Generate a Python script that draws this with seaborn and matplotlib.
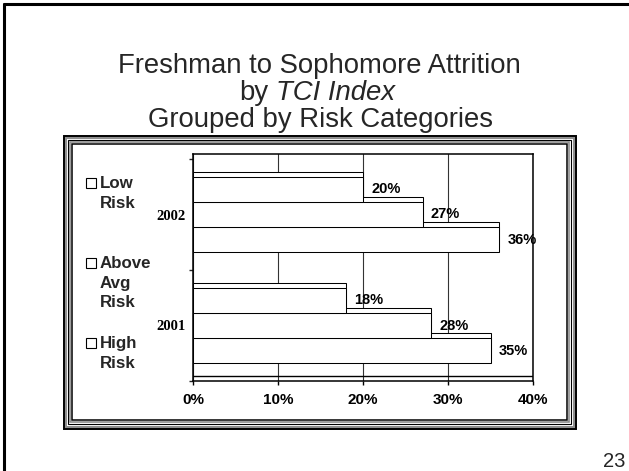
import numpy as np
import pandas as pd
import seaborn as sns
import matplotlib.pyplot as plt
import matplotlib.transforms as mtransforms
from matplotlib.patches import Rectangle
from matplotlib.lines import Line2D

# data
years = ["2002", "2001"]
risks = ["Low Risk", "Above Avg Risk", "High Risk"]
legend_labels = ["Low\nRisk", "Above\nAvg\nRisk", "High\nRisk"]
rate_2002 = [0.20, 0.27, 0.36]
rate_2001 = [0.18, 0.28, 0.35]
xticks = [0, 0.1, 0.2, 0.3, 0.4]
xtick_labels = ["0%", "10%", "20%", "30%", "40%"]

df = pd.DataFrame({
    "year": np.repeat(years, len(risks)),
    "risk": risks * len(years),
    "rate": rate_2002 + rate_2001,
})

W, H = 629, 471
sns.set_theme(style="white")
plt.rcParams["font.family"] = ["Liberation Sans", "DejaVu Sans"]

fig = plt.figure(figsize=(W / 100, H / 100), dpi=100)


def fx(px):
    return px / W


def fy(py):
    return 1 - py / H


# slide border (left + top)
fig.add_artist(Line2D([fx(4), fx(4)], [fy(4), 0], color="black", lw=2.2,
                      transform=fig.transFigure))
fig.add_artist(Line2D([fx(4), 1], [fy(4), fy(4)], color="black", lw=2.2,
                      transform=fig.transFigure))

# title
fs_title = 19.8
fig.text(fx(319), fy(73), "Freshman to Sophomore Attrition", ha="center",
         va="baseline", fontsize=fs_title)
fig.text(fx(320), fy(127), "Grouped by Risk Categories", ha="center",
         va="baseline", fontsize=fs_title)
t1 = fig.text(0, fy(100), "by", ha="left", va="baseline", fontsize=fs_title)
t2 = fig.text(0, fy(100), "TCI Index", ha="left", va="baseline",
              fontsize=fs_title, style="italic")
r = fig.canvas.get_renderer()
w1 = t1.get_window_extent(r).width
w2 = t2.get_window_extent(r).width
gap = 0.278 * fs_title / 72 * 100
x0 = 317 - (w1 + gap + w2) / 2
t1.set_x(fx(x0))
t2.set_x(fx(x0 + w1 + gap))

# picture frame around the chart
for inset, col, lw in [(0, "black", 1.4), (2, "#8c8c8c", 1.4), (4.5, "black", 0.8),
                       (6.5, "#8c8c8c", 1.2), (8.5, "black", 1.1)]:
    fig.add_artist(Rectangle((fx(63.5 + inset), fy(428.5 - inset)),
                             (512 - 2 * inset) / W, (293 - 2 * inset) / H,
                             fill=False, ec=col, lw=lw, transform=fig.transFigure))

# plot area
ax = fig.add_axes([fx(193), fy(381), fx(340), 227 / H])
sns.barplot(data=df, x="rate", y="year", hue="risk", order=years,
            hue_order=risks, orient="h", width=0.676, palette=["white"] * 3,
            edgecolor="black", linewidth=0.75, saturation=1, legend=False, ax=ax)

depth = 5  # px of pseudo-3D depth
ax.set_xlim(0, 0.4)
ax.set_ylim(1.5, -0.5 - depth / 111)

up = mtransforms.ScaledTranslation(0, depth / 100, fig.dpi_scale_trans)
bars = sorted(ax.patches, key=lambda p: -(p.get_y() + p.get_height() / 2))
for i, p in enumerate(bars):
    p.set_zorder(4 + 2 * i)
    ax.add_patch(Rectangle((p.get_x(), p.get_y()), p.get_width(), p.get_height(),
                           transform=ax.transData + up, fc="white", ec="black",
                           lw=0.75, zorder=3 + 2 * i))
    ax.annotate(f"{p.get_width() * 100:.0f}%",
                (p.get_width(), p.get_y() + p.get_height() / 2),
                xytext=(6, 0), textcoords="offset points", ha="left", va="center",
                fontsize=10.5, fontweight="bold", color="black", zorder=50)

# floor back edge
floor = ax.axhline(ax.get_ylim()[0], color="black", lw=1.0, zorder=2)
floor.set_transform(floor.get_transform() + up)

ax.set_xticks(xticks)
ax.set_xticklabels(xtick_labels, fontsize=11, fontweight="bold")
ax.grid(axis="x", color="#333333", lw=0.8)
ax.grid(axis="y", visible=False)
ax.set_axisbelow(True)

ax.set_yticks(range(len(years)))
ax.set_yticklabels(years, fontsize=10.5, fontweight="bold",
                   family=["Liberation Serif", "DejaVu Serif"])
ax.set_yticks([-0.5, 0.5, 1.5], minor=True)
ax.tick_params(axis="y", which="major", length=0, pad=5, colors="black")
ax.tick_params(axis="y", which="minor", left=True, length=3, width=1, direction="out")
ax.tick_params(axis="x", bottom=True, length=3, width=1, pad=6, colors="black")
ax.set_xlabel("")
ax.set_ylabel("")
for s in ax.spines.values():
    s.set_color("black")
    s.set_linewidth(1.1)
ax.set_facecolor("white")

# legend at left
legend_y = [183, 263, 343]
for lab, yc in zip(legend_labels, legend_y):
    fig.add_artist(Rectangle((fx(86), fy(yc + 5)), 10 / W, 10 / H, fill=False,
                             ec="black", lw=0.8, transform=fig.transFigure))
    fig.text(fx(100), fy(yc - 7), lab, ha="left", va="top", fontsize=12.2,
             fontweight="bold", linespacing=1.38)

fig.text(fx(625), fy(467), "23", ha="right", va="baseline", fontsize=14.5)

fig.savefig("out.png", dpi=100)
